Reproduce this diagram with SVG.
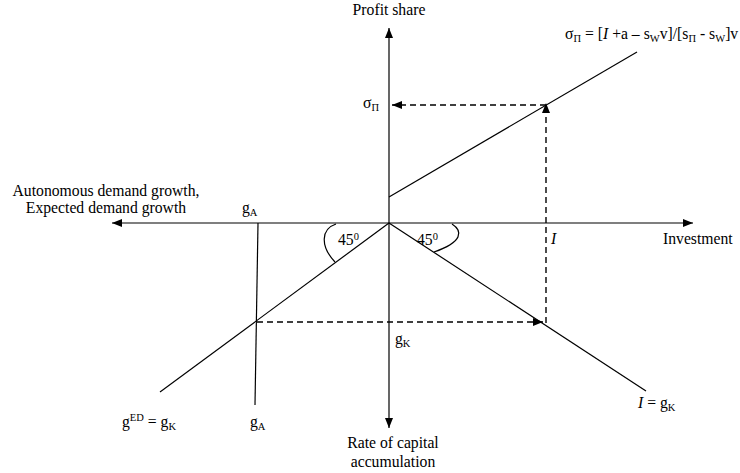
<svg xmlns="http://www.w3.org/2000/svg" width="740" height="473" viewBox="0 0 740 473">
<style>
text{font-family:"Liberation Serif","Times New Roman",serif;font-size:15.7px;fill:#000}
.ln{stroke:#000;stroke-width:1.2;fill:none}
.ds{stroke:#000;stroke-width:1.4;fill:none;stroke-dasharray:6,4}
.sub{font-size:10.5px}
</style>
<defs>
<marker id="ah" viewBox="0 0 10 10" refX="10" refY="5" markerWidth="10" markerHeight="10" markerUnits="userSpaceOnUse" orient="auto">
<path d="M0,1 L10,5 L0,9 Z" fill="#000"/>
</marker>
</defs>
<rect width="740" height="473" fill="#fff"/>
<g id="connectors">
<line class="ln" x1="389" y1="223" x2="389" y2="28" marker-end="url(#ah)"/>
<line class="ln" x1="389" y1="223" x2="389" y2="428" marker-end="url(#ah)"/>
<line class="ln" x1="389" y1="223" x2="693" y2="223" marker-end="url(#ah)"/>
<line class="ln" x1="389" y1="223" x2="112" y2="223" marker-end="url(#ah)"/>
<line class="ln" x1="389" y1="197" x2="637" y2="52"/>
<line class="ln" x1="389" y1="223" x2="160" y2="392"/>
<line class="ln" x1="389" y1="223" x2="646" y2="391"/>
<line class="ln" x1="258" y1="223" x2="255" y2="405"/>
<line class="ds" x1="546" y1="323" x2="546" y2="103" marker-end="url(#ah)"/>
<line class="ds" x1="546" y1="105" x2="392" y2="105" marker-end="url(#ah)"/>
<line class="ds" x1="257" y1="322" x2="543" y2="322" marker-end="url(#ah)"/>
<path class="ln" d="M336,224 C321,229 320,246 335,262"/>
<path class="ln" d="M452,224 C463,231 463,242 434,252"/>
</g>
<g id="labels">
<text x="389" y="15" text-anchor="middle">Profit share</text>
<text x="106" y="196" text-anchor="middle">Autonomous demand growth,</text>
<text x="106" y="213" text-anchor="middle">Expected demand growth</text>
<text x="242" y="213">g<tspan class="sub" dy="3">A</tspan></text>
<text x="663" y="244">Investment</text>
<text x="551" y="244" font-style="italic">I</text>
<text x="338" y="245">45<tspan class="sub" dy="-5">0</tspan></text>
<text x="417" y="245">45<tspan class="sub" dy="-5">0</tspan></text>
<text x="363" y="108">σ<tspan class="sub" dy="3">Π</tspan></text>
<text x="565" y="39">σ<tspan class="sub" dy="3">Π</tspan><tspan dy="-3"> = [</tspan><tspan font-style="italic">I</tspan><tspan> +a – s</tspan><tspan class="sub" dy="3">W</tspan><tspan dy="-3">v]/[s</tspan><tspan class="sub" dy="3">Π</tspan><tspan dy="-3"> - s</tspan><tspan class="sub" dy="3">W</tspan><tspan dy="-3">]v</tspan></text>
<text x="395" y="344">g<tspan class="sub" dy="3">K</tspan></text>
<text x="393" y="448" text-anchor="middle">Rate of capital</text>
<text x="393" y="467" text-anchor="middle">accumulation</text>
<text x="122" y="427">g<tspan class="sub" dy="-6">ED</tspan><tspan dy="6"> = g</tspan><tspan class="sub" dy="3">K</tspan></text>
<text x="250" y="427">g<tspan class="sub" dy="3">A</tspan></text>
<text x="638" y="408"><tspan font-style="italic">I</tspan> = g<tspan class="sub" dy="3">K</tspan></text>
</g>
</svg>
